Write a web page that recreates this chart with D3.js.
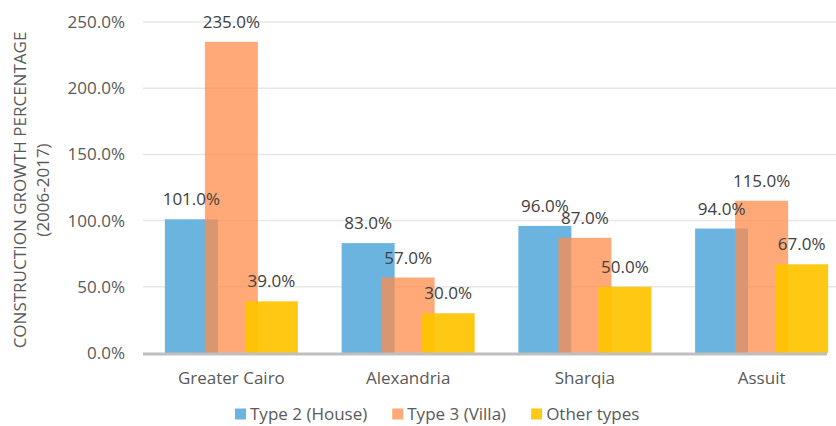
<!DOCTYPE html>
<html>
<head>
<meta charset="utf-8">
<script src="https://cdn.jsdelivr.net/npm/d3@7"></script>
<style>
  body { margin: 0; background: #fff; }
  svg text { font-family: "Open Sans", sans-serif; }
</style>
</head>
<body>
<svg id="chart"></svg>
<script>
// data
var categories = ["Greater Cairo", "Alexandria", "Sharqia", "Assuit"];
var seriesNames = ["Type 2 (House)", "Type 3 (Villa)", "Other types"];
var houseValues = [101, 83, 96, 94];
var villaValues = [235, 57, 87, 115];
var otherValues = [39, 30, 50, 67];
var yTicks = [0, 50, 100, 150, 200, 250];
var yTitleLines = ["CONSTRUCTION GROWTH PERCENTAGE", "(2006-2017)"];

// styling
var colors = ["#6cb4e0", "#ff8b4a", "#ffc400"];
var opacities = [1, 0.74, 0.93];
var width = 836, height = 426;
var barWidth = 53;
var fontSize = '17px';

var series = seriesNames.map(function (name, i) {
  var vals = [houseValues, villaValues, otherValues][i];
  return { name: name, idx: i, values: categories.map(function (c, j) { return { cat: c, value: vals[j] }; }) };
});

var svg = d3.select('#chart')
  .attr('width', width)
  .attr('height', height);

var x = d3.scaleBand()
  .domain(categories)
  .range([143, 850]);

var xs = d3.scalePoint()
  .domain(seriesNames)
  .range([-40, 40]);

var y = d3.scaleLinear()
  .domain([0, 250])
  .range([353, 22]);

//// gridlines
svg.append('g')
  .selectAll('line')
  .data(yTicks.filter(function (t) { return t > 0; }))
  .enter()
  .append('line')
    .attr('x1', 143)
    .attr('x2', width)
    .attr('y1', function (d) { return y(d); })
    .attr('y2', function (d) { return y(d); })
    .attr('stroke', '#e7e7e7')
    .attr('stroke-width', 1.5);

//// y tick labels
svg.append('g')
  .selectAll('text')
  .data(yTicks)
  .enter()
  .append('text')
    .attr('x', 125)
    .attr('y', function (d) { return y(d); })
    .attr('dy', '0.35em')
    .attr('text-anchor', 'end')
    .attr('fill', '#595959')
    .style('font-size', fontSize)
    .text(function (d) { return d3.format('.1f')(d) + '%'; });

//// bars
series.forEach(function (s) {
  svg.append('g')
    .selectAll('rect')
    .data(s.values)
    .enter()
    .append('rect')
      .attr('x', function (d) { return x(d.cat) + x.bandwidth() / 2 + xs(s.name) - barWidth / 2; })
      .attr('y', function (d) { return y(d.value); })
      .attr('width', barWidth)
      .attr('height', function (d) { return y(0) - y(d.value); })
      .attr('fill', colors[s.idx])
      .attr('fill-opacity', opacities[s.idx]);
});

//// baseline
svg.append('line')
  .attr('x1', 143)
  .attr('x2', 827)
  .attr('y1', y(0) + 1)
  .attr('y2', y(0) + 1)
  .attr('stroke', '#bfbfbf')
  .attr('stroke-width', 3);

//// data labels
series.forEach(function (s) {
  svg.append('g')
    .selectAll('text')
    .data(s.values)
    .enter()
    .append('text')
      .attr('x', function (d) { return x(d.cat) + x.bandwidth() / 2 + xs(s.name); })
      .attr('y', function (d) { return y(d.value) - 14; })
      .attr('text-anchor', 'middle')
      .attr('fill', '#404040')
      .style('font-size', fontSize)
      .text(function (d) { return d3.format('.1f')(d.value) + '%'; });
});

//// category labels
svg.append('g')
  .selectAll('text')
  .data(categories)
  .enter()
  .append('text')
    .attr('x', function (d) { return x(d) + x.bandwidth() / 2; })
    .attr('y', 384)
    .attr('text-anchor', 'middle')
    .attr('fill', '#595959')
    .style('font-size', fontSize)
    .text(function (d) { return d; });

//// y title
svg.append('g')
  .selectAll('text')
  .data(yTitleLines)
  .enter()
  .append('text')
    .attr('transform', function (d, i) { return 'translate(' + (20 + i * 23) + ',190) rotate(-90)'; })
    .attr('dy', '0.35em')
    .attr('text-anchor', 'middle')
    .attr('fill', '#595959')
    .style('font-size', fontSize)
    .text(function (d) { return d; });

//// legend
var legend = svg.append('g');
var items = legend.selectAll('g')
  .data(series)
  .enter()
  .append('g');
items.append('rect')
  .attr('y', -5.5)
  .attr('width', 11)
  .attr('height', 11)
  .attr('fill', function (d) { return colors[d.idx]; })
  .attr('fill-opacity', function (d) { return opacities[d.idx]; });
items.append('text')
  .attr('x', 15)
  .attr('dy', '0.35em')
  .attr('fill', '#595959')
  .style('font-size', fontSize)
  .text(function (d) { return d.name; });

var offset = 0;
items.each(function () {
  var w = 15 + d3.select(this).select('text').node().getComputedTextLength();
  d3.select(this).attr('transform', 'translate(' + offset + ',0)');
  offset += w + 25;
});
offset -= 25;
legend.attr('transform', 'translate(' + Math.round(437 - offset / 2) + ',414)');
</script>
</body>
</html>
